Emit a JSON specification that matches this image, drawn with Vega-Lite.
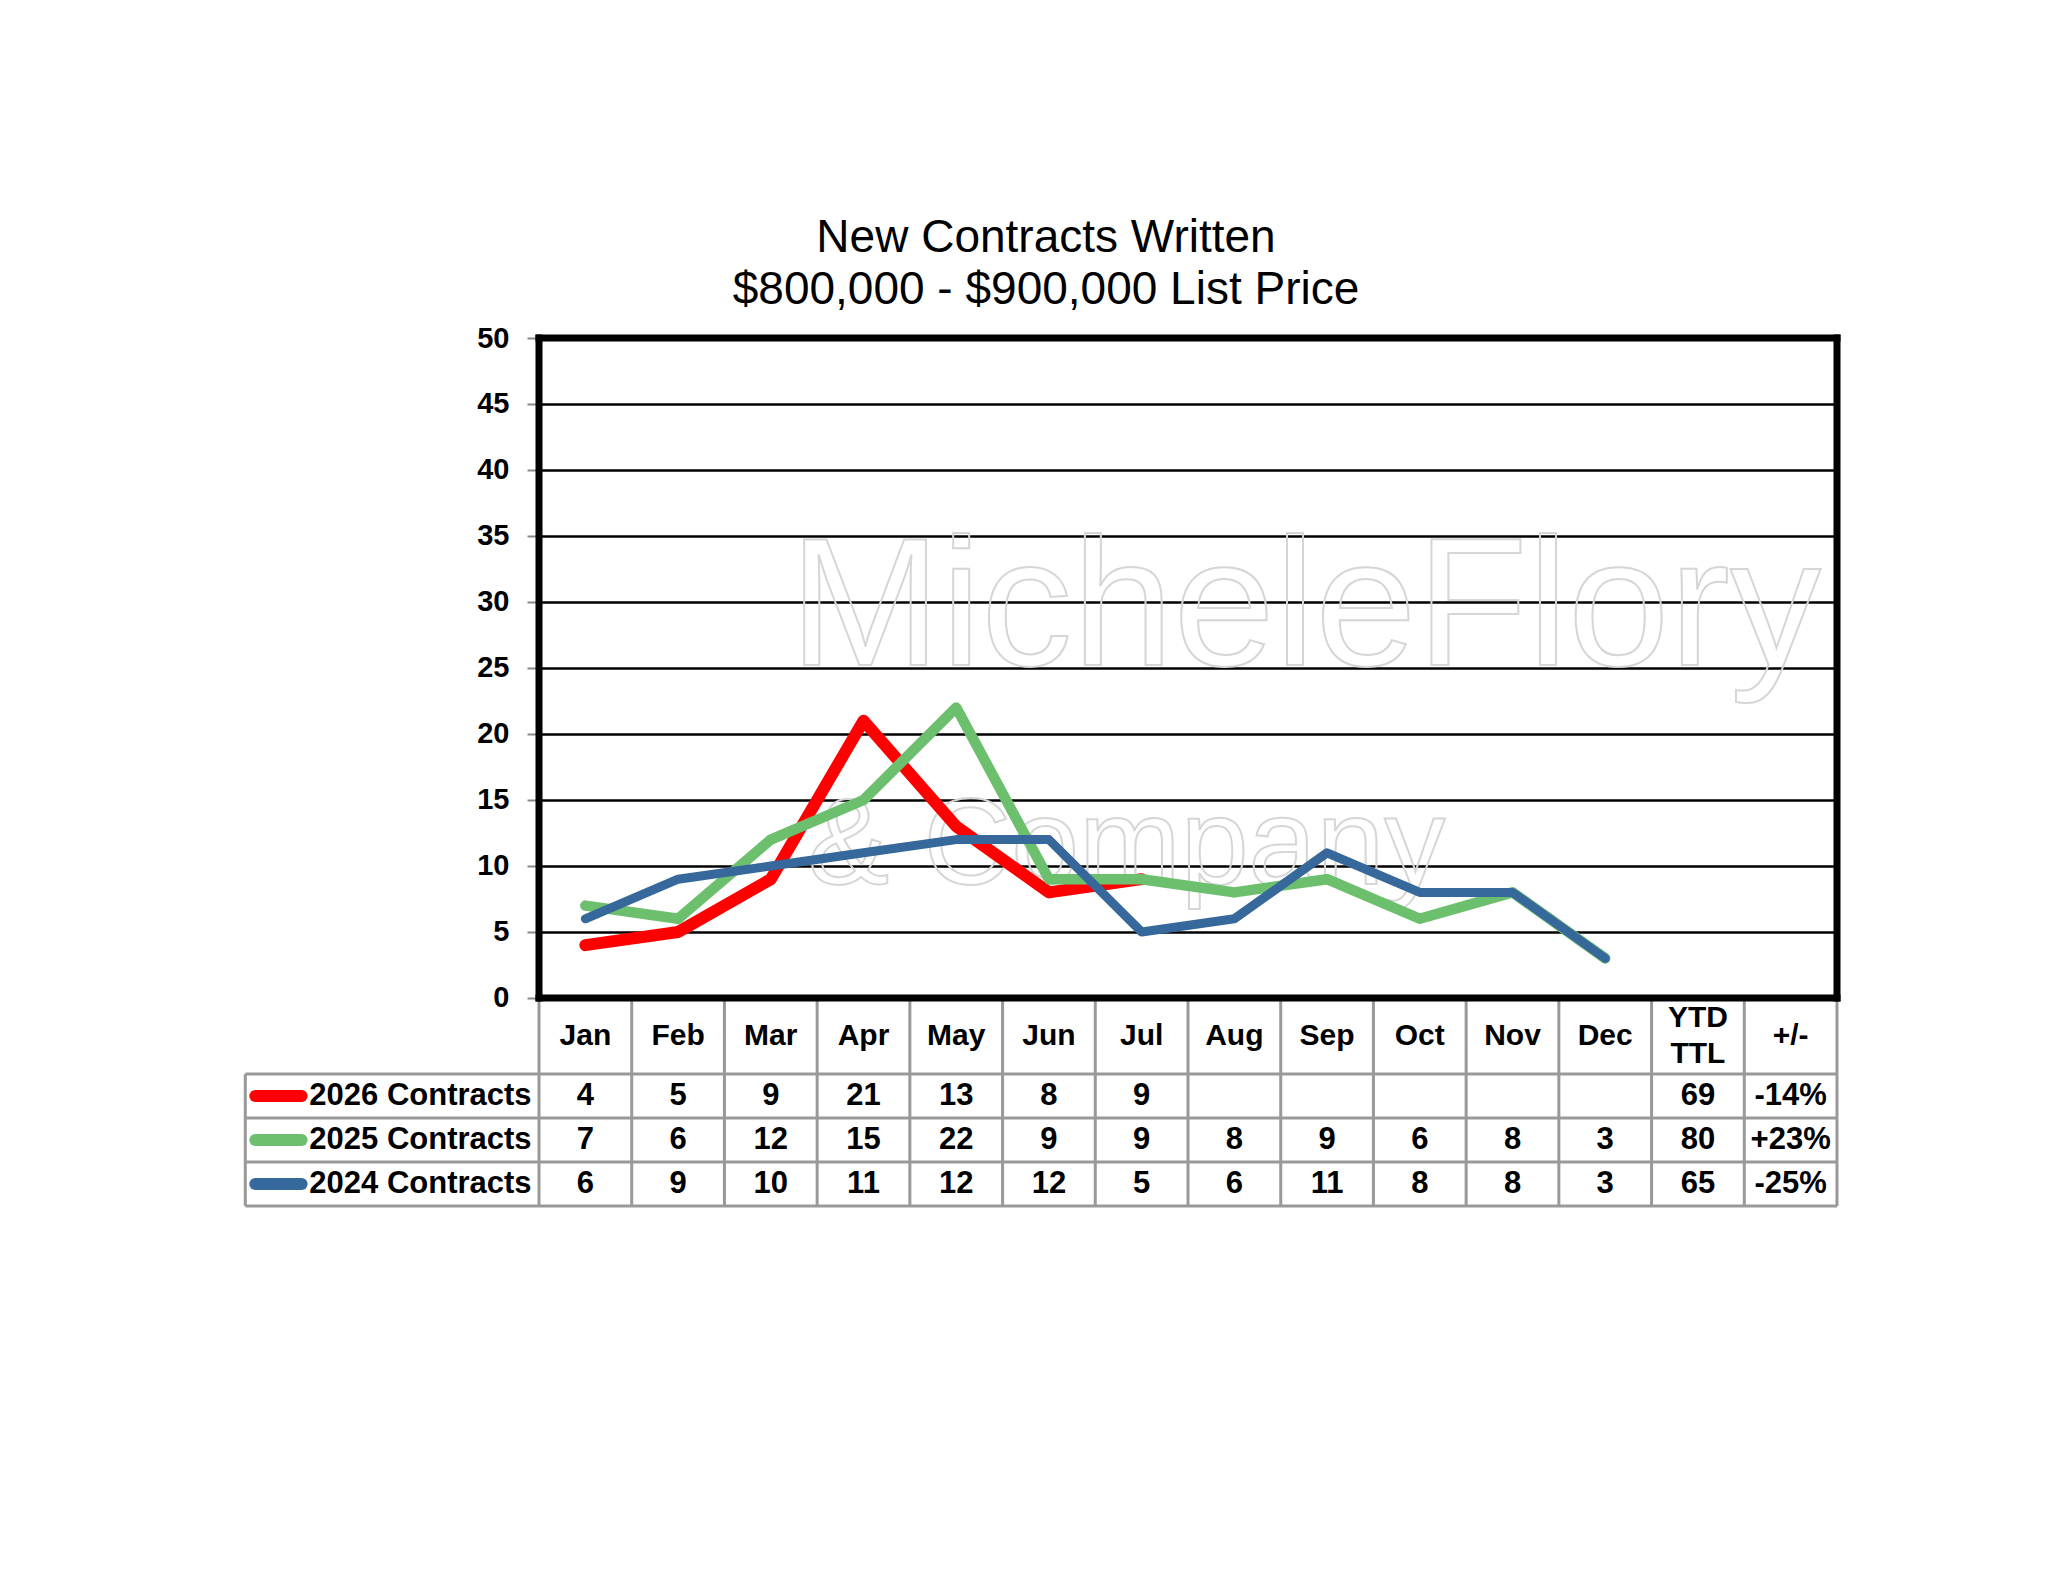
{
  "$schema": "https://vega.github.io/schema/vega-lite/v6.json",
  "width": 1298,
  "height": 868,
  "padding": {"left": 243, "top": 215, "right": 10, "bottom": 10},
  "background": "white",
  "config": {"view": {"stroke": null}, "font": "Liberation Sans"},
  "title": {
    "text": ["New Contracts Written", "$800,000 - $900,000 List Price"],
    "font": "Liberation Sans",
    "fontSize": 46,
    "fontWeight": "normal",
    "color": "black",
    "lineHeight": 52,
    "anchor": "middle",
    "frame": "group",
    "dx": -142,
    "offset": 10
  },
  "datasets": {
    "monthly": [
      {"series": "2026 Contracts", "month": 1, "value": 4},
      {"series": "2026 Contracts", "month": 2, "value": 5},
      {"series": "2026 Contracts", "month": 3, "value": 9},
      {"series": "2026 Contracts", "month": 4, "value": 21},
      {"series": "2026 Contracts", "month": 5, "value": 13},
      {"series": "2026 Contracts", "month": 6, "value": 8},
      {"series": "2026 Contracts", "month": 7, "value": 9},
      {"series": "2025 Contracts", "month": 1, "value": 7},
      {"series": "2025 Contracts", "month": 2, "value": 6},
      {"series": "2025 Contracts", "month": 3, "value": 12},
      {"series": "2025 Contracts", "month": 4, "value": 15},
      {"series": "2025 Contracts", "month": 5, "value": 22},
      {"series": "2025 Contracts", "month": 6, "value": 9},
      {"series": "2025 Contracts", "month": 7, "value": 9},
      {"series": "2025 Contracts", "month": 8, "value": 8},
      {"series": "2025 Contracts", "month": 9, "value": 9},
      {"series": "2025 Contracts", "month": 10, "value": 6},
      {"series": "2025 Contracts", "month": 11, "value": 8},
      {"series": "2025 Contracts", "month": 12, "value": 3},
      {"series": "2024 Contracts", "month": 1, "value": 6},
      {"series": "2024 Contracts", "month": 2, "value": 9},
      {"series": "2024 Contracts", "month": 3, "value": 10},
      {"series": "2024 Contracts", "month": 4, "value": 11},
      {"series": "2024 Contracts", "month": 5, "value": 12},
      {"series": "2024 Contracts", "month": 6, "value": 12},
      {"series": "2024 Contracts", "month": 7, "value": 5},
      {"series": "2024 Contracts", "month": 8, "value": 6},
      {"series": "2024 Contracts", "month": 9, "value": 11},
      {"series": "2024 Contracts", "month": 10, "value": 8},
      {"series": "2024 Contracts", "month": 11, "value": 8},
      {"series": "2024 Contracts", "month": 12, "value": 3}
    ],
    "cells": [
      {"series": "2026 Contracts", "col": 1, "label": "4"},
      {"series": "2026 Contracts", "col": 2, "label": "5"},
      {"series": "2026 Contracts", "col": 3, "label": "9"},
      {"series": "2026 Contracts", "col": 4, "label": "21"},
      {"series": "2026 Contracts", "col": 5, "label": "13"},
      {"series": "2026 Contracts", "col": 6, "label": "8"},
      {"series": "2026 Contracts", "col": 7, "label": "9"},
      {"series": "2026 Contracts", "col": 13, "label": "69"},
      {"series": "2026 Contracts", "col": 14, "label": "-14%"},
      {"series": "2025 Contracts", "col": 1, "label": "7"},
      {"series": "2025 Contracts", "col": 2, "label": "6"},
      {"series": "2025 Contracts", "col": 3, "label": "12"},
      {"series": "2025 Contracts", "col": 4, "label": "15"},
      {"series": "2025 Contracts", "col": 5, "label": "22"},
      {"series": "2025 Contracts", "col": 6, "label": "9"},
      {"series": "2025 Contracts", "col": 7, "label": "9"},
      {"series": "2025 Contracts", "col": 8, "label": "8"},
      {"series": "2025 Contracts", "col": 9, "label": "9"},
      {"series": "2025 Contracts", "col": 10, "label": "6"},
      {"series": "2025 Contracts", "col": 11, "label": "8"},
      {"series": "2025 Contracts", "col": 12, "label": "3"},
      {"series": "2025 Contracts", "col": 13, "label": "80"},
      {"series": "2025 Contracts", "col": 14, "label": "+23%"},
      {"series": "2024 Contracts", "col": 1, "label": "6"},
      {"series": "2024 Contracts", "col": 2, "label": "9"},
      {"series": "2024 Contracts", "col": 3, "label": "10"},
      {"series": "2024 Contracts", "col": 4, "label": "11"},
      {"series": "2024 Contracts", "col": 5, "label": "12"},
      {"series": "2024 Contracts", "col": 6, "label": "12"},
      {"series": "2024 Contracts", "col": 7, "label": "5"},
      {"series": "2024 Contracts", "col": 8, "label": "6"},
      {"series": "2024 Contracts", "col": 9, "label": "11"},
      {"series": "2024 Contracts", "col": 10, "label": "8"},
      {"series": "2024 Contracts", "col": 11, "label": "8"},
      {"series": "2024 Contracts", "col": 12, "label": "3"},
      {"series": "2024 Contracts", "col": 13, "label": "65"},
      {"series": "2024 Contracts", "col": 14, "label": "-25%"}
    ],
    "headers": [
      {"col": 1, "label": "Jan"},
      {"col": 2, "label": "Feb"},
      {"col": 3, "label": "Mar"},
      {"col": 4, "label": "Apr"},
      {"col": 5, "label": "May"},
      {"col": 6, "label": "Jun"},
      {"col": 7, "label": "Jul"},
      {"col": 8, "label": "Aug"},
      {"col": 9, "label": "Sep"},
      {"col": 10, "label": "Oct"},
      {"col": 11, "label": "Nov"},
      {"col": 12, "label": "Dec"},
      {"col": 13, "label": "YTD\nTTL"},
      {"col": 14, "label": "+/-"}
    ],
    "colEdges": [
      {"edge": 0.5}, {"edge": 1.5}, {"edge": 2.5}, {"edge": 3.5}, {"edge": 4.5},
      {"edge": 5.5}, {"edge": 6.5}, {"edge": 7.5}, {"edge": 8.5}, {"edge": 9.5},
      {"edge": 10.5}, {"edge": 11.5}, {"edge": 12.5}, {"edge": 13.5}, {"edge": 14.5}
    ],
    "rowEdges": [
      {"edge": -5.76}, {"edge": -9.09}, {"edge": -12.42}, {"edge": -15.76}
    ],
    "rowNames": [
      {"series": "2026 Contracts", "row": -7.42},
      {"series": "2025 Contracts", "row": -10.76},
      {"series": "2024 Contracts", "row": -14.09}
    ],
    "frame": [
      {"x": 0.5, "x2": 14.5, "y": 50, "y2": 50},
      {"x": 0.5, "x2": 14.5, "y": 0, "y2": 0},
      {"x": 0.5, "x2": 0.5, "y": 0, "y2": 50},
      {"x": 14.5, "x2": 14.5, "y": 0, "y2": 50}
    ],
    "watermark": [
      {"text": "MicheleFlory", "x": 3.2, "y": 25.2, "size": "big"},
      {"text": "& Company", "x": 3.4, "y": 8.6, "size": "small"}
    ]
  },
  "layer": [
    {
      "data": {"name": "watermark"},
      "transform": [{"filter": "datum.size === 'big'"}],
      "mark": {"type": "text", "font": "Liberation Sans", "fontSize": 182, "align": "left", "baseline": "alphabetic", "fill": "white", "fillOpacity": 0, "stroke": "#d6d6d6", "strokeWidth": 2},
      "encoding": {
        "x": {"field": "x", "type": "quantitative", "axis": null},
        "y": {"field": "y", "type": "quantitative", "axis": {"title": null}},
        "text": {"field": "text", "type": "nominal"}
      }
    },
    {
      "data": {"name": "watermark"},
      "transform": [{"filter": "datum.size === 'small'"}],
      "mark": {"type": "text", "font": "Liberation Sans", "fontSize": 122, "align": "left", "baseline": "alphabetic", "fill": "white", "fillOpacity": 0, "stroke": "#d6d6d6", "strokeWidth": 2},
      "encoding": {
        "x": {"field": "x", "type": "quantitative", "axis": null},
        "y": {"field": "y", "type": "quantitative", "axis": {"title": null}},
        "text": {"field": "text", "type": "nominal"}
      }
    },
    {
      "data": {"name": "monthly"},
      "mark": {"type": "line", "strokeCap": "round", "strokeJoin": "round"},
      "encoding": {
        "x": {"field": "month", "type": "quantitative", "scale": {"domain": [0.5, 14.5], "nice": false, "zero": false}, "axis": null},
        "y": {
          "field": "value",
          "type": "quantitative",
          "scale": {"domain": [-15.76, 50], "nice": false, "zero": false},
          "axis": {
            "values": [0, 5, 10, 15, 20, 25, 30, 35, 40, 45, 50],
            "title": null,
            "grid": true,
            "gridColor": "black",
            "gridWidth": 2.5,
            "gridOpacity": 1,
            "domain": false,
            "ticks": true,
            "tickColor": "#888888",
            "tickSize": 12,
            "tickWidth": 2,
            "labelFont": "Liberation Sans",
            "labelFontWeight": "bold",
            "labelFontSize": 29,
            "labelColor": "black",
            "labelPadding": 18
          }
        },
        "color": {
          "field": "series",
          "type": "nominal",
          "scale": {"domain": ["2026 Contracts", "2025 Contracts", "2024 Contracts"], "range": ["#ff0000", "#6cbf6c", "#37689b"]},
          "legend": null
        },
        "strokeWidth": {
          "field": "series",
          "type": "nominal",
          "scale": {"domain": ["2026 Contracts", "2025 Contracts", "2024 Contracts"], "range": [12, 9, 9]},
          "legend": null
        }
      }
    },
    {
      "data": {"name": "colEdges"},
      "mark": {"type": "rule", "color": "#999999", "strokeWidth": 3},
      "encoding": {
        "x": {"field": "edge", "type": "quantitative", "axis": null},
        "y": {"datum": 0, "type": "quantitative", "axis": {"title": null}},
        "y2": {"datum": -15.76}
      }
    },
    {
      "data": {"name": "rowEdges"},
      "mark": {"type": "rule", "color": "#999999", "strokeWidth": 3},
      "encoding": {
        "y": {"field": "edge", "type": "quantitative", "axis": {"title": null}},
        "x": {"datum": -2.668, "type": "quantitative", "axis": null},
        "x2": {"datum": 14.5}
      }
    },
    {
      "data": {"name": "rowEdges"},
      "transform": [{"filter": "datum.edge === -5.76"}],
      "mark": {"type": "rule", "color": "#999999", "strokeWidth": 3},
      "encoding": {
        "x": {"datum": -2.668, "type": "quantitative", "axis": null},
        "y": {"field": "edge", "type": "quantitative", "axis": {"title": null}},
        "y2": {"datum": -15.76}
      }
    },
    {
      "data": {"name": "frame"},
      "mark": {"type": "rule", "color": "black", "strokeWidth": 7, "strokeCap": "square"},
      "encoding": {
        "x": {"field": "x", "type": "quantitative", "axis": null},
        "x2": {"field": "x2"},
        "y": {"field": "y", "type": "quantitative", "axis": {"title": null}},
        "y2": {"field": "y2"}
      }
    },
    {
      "data": {"name": "headers"},
      "transform": [{"filter": "datum.col !== 13"}],
      "mark": {"type": "text", "font": "Liberation Sans", "fontWeight": "bold", "fontSize": 30, "color": "black", "align": "center", "baseline": "middle"},
      "encoding": {
        "x": {"field": "col", "type": "quantitative", "axis": null},
        "y": {"datum": -2.88, "type": "quantitative", "axis": {"title": null}},
        "text": {"field": "label", "type": "nominal"}
      }
    },
    {
      "data": {"name": "headers"},
      "transform": [{"filter": "datum.col === 13"}],
      "mark": {"type": "text", "font": "Liberation Sans", "fontWeight": "bold", "fontSize": 30, "color": "black", "align": "center", "baseline": "alphabetic", "lineBreak": "\n", "lineHeight": 36},
      "encoding": {
        "x": {"field": "col", "type": "quantitative", "axis": null},
        "y": {"datum": -2.2, "type": "quantitative", "axis": {"title": null}},
        "text": {"field": "label", "type": "nominal"}
      }
    },
    {
      "data": {"name": "cells"},
      "transform": [
        {"lookup": "series", "from": {"data": {"name": "rowNames"}, "key": "series", "fields": ["row"]}}
      ],
      "mark": {"type": "text", "font": "Liberation Sans", "fontWeight": "bold", "fontSize": 31, "color": "black", "align": "center", "baseline": "middle"},
      "encoding": {
        "x": {"field": "col", "type": "quantitative", "axis": null},
        "y": {"field": "row", "type": "quantitative", "axis": {"title": null}},
        "text": {"field": "label", "type": "nominal"}
      }
    },
    {
      "data": {"name": "rowNames"},
      "mark": {"type": "rule", "strokeWidth": 12, "strokeCap": "round"},
      "encoding": {
        "x": {"datum": -2.56, "type": "quantitative", "axis": null},
        "x2": {"datum": -2.06},
        "y": {"field": "row", "type": "quantitative", "axis": {"title": null}},
        "color": {"field": "series", "type": "nominal", "legend": null}
      }
    },
    {
      "data": {"name": "rowNames"},
      "mark": {"type": "text", "font": "Liberation Sans", "fontWeight": "bold", "fontSize": 31, "color": "black", "align": "right", "baseline": "middle"},
      "encoding": {
        "x": {"datum": 0.42, "type": "quantitative", "axis": null},
        "y": {"field": "row", "type": "quantitative", "axis": {"title": null}},
        "text": {"field": "series", "type": "nominal"}
      }
    }
  ]
}
